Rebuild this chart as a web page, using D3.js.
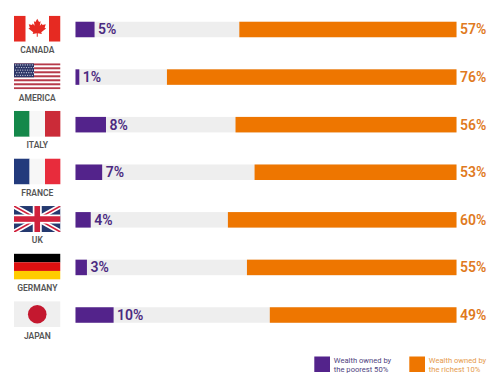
<!DOCTYPE html>
<html>
<head>
<meta charset="utf-8">
<script src="https://cdn.jsdelivr.net/npm/d3@7"></script>
<style>
  body { margin: 0; background: #fff; }
  text { font-family: Roboto, sans-serif; }
</style>
</head>
<body>
<svg class="chart" width="498" height="381"></svg>
<script>
"use strict";

var countries = ["CANADA", "AMERICA", "ITALY", "FRANCE", "UK", "GERMANY", "JAPAN"];
var flags = ["ca", "us", "it", "fr", "uk", "de", "jp"];
var poorest = [5, 1, 8, 7, 4, 3, 10];
var richest = [57, 76, 56, 53, 60, 55, 49];
// the Italy bar in the picture is drawn longer than its printed 56%
var richestBar = [57, 76, 58, 53, 60, 55, 49];
var legendPoorest = ["Wealth owned by", "the poorest 50%"];
var legendRichest = ["Wealth owned by", "the richest 10%"];

var purple = "#53238b", orange = "#ee7600", track = "#eeeeee";

var svg = d3.select(".chart");

var x = d3.scaleLinear().domain([0, 100]).range([75.5, 456.5]);
var y = d3.scaleBand().domain(countries).range([5.7, 338.8]);
var barH = 15.5;
var cy = d => y(d) + y.bandwidth() / 2;

// tracks
svg.append("g").selectAll("rect")
  .data(countries)
  .enter().append("rect")
  .attr("x", x(0))
  .attr("y", d => cy(d) - barH / 2)
  .attr("width", x(100) - x(0))
  .attr("height", barH)
  .attr("fill", track);

// richest 10%, right aligned
svg.append("g").selectAll("rect")
  .data(countries)
  .enter().append("rect")
  .attr("x", (d, i) => x(100 - richestBar[i]))
  .attr("y", d => cy(d) - barH / 2)
  .attr("width", (d, i) => x(richestBar[i]) - x(0))
  .attr("height", barH)
  .attr("fill", orange);

// poorest 50%
svg.append("g").selectAll("rect")
  .data(countries)
  .enter().append("rect")
  .attr("x", x(0))
  .attr("y", d => cy(d) - barH / 2)
  .attr("width", (d, i) => x(poorest[i]) - x(0))
  .attr("height", barH)
  .attr("fill", purple);

// value labels
svg.append("g")
  .attr("fill", "#4b2a80")
  .style("font", "600 14px Roboto, sans-serif")
  .selectAll("text")
  .data(countries)
  .enter().append("text")
  .attr("x", (d, i) => x(poorest[i]) + 3.5)
  .attr("y", d => cy(d) + 5)
  .text((d, i) => poorest[i] + "%");

svg.append("g")
  .attr("fill", "#e07a1e")
  .style("font", "600 14px Roboto, sans-serif")
  .selectAll("text")
  .data(countries)
  .enter().append("text")
  .attr("x", x(100) + 3.5)
  .attr("y", d => cy(d) + 5)
  .text((d, i) => richest[i] + "%");

// country names
svg.append("g")
  .attr("fill", "#555555")
  .attr("text-anchor", "middle")
  .style("font", "600 8.5px Roboto, sans-serif")
  .selectAll("text")
  .data(countries)
  .enter().append("text")
  .attr("x", 37.3)
  .attr("y", d => cy(d) + 23.5)
  .text(d => d);

// flags
var fx = 14, fw = 46.5, fh = 26;

var leafHalf = [[0,-9],[-1.8,-5.6],[-3.4,-6.5],[-2.6,-2],[-4.6,-4.2],[-5.2,-2.8],[-8.5,-3.4],[-7.4,0],[-8.8,0.8],[-4,4.6],[-4.6,6.3],[-0.5,5.6],[-0.5,9]];
var leaf = leafHalf.concat(leafHalf.slice(1).reverse().map(p => [-p[0], p[1]]));

var flagDraw = {
  ca: function(g) {
    g.append("rect").attr("width", fw).attr("height", fh).attr("fill", "#fff");
    g.append("rect").attr("width", 11.5).attr("height", fh).attr("fill", "#e62a22");
    g.append("rect").attr("x", fw - 11.5).attr("width", 11.5).attr("height", fh).attr("fill", "#e62a22");
    g.append("path").attr("d", d3.line()(leaf) + "Z")
      .attr("transform", `translate(${fw / 2},${fh / 2 - 1})`)
      .attr("fill", "#e62a22");
  },
  us: function(g) {
    g.append("rect").attr("width", fw).attr("height", fh).attr("fill", "#fff");
    g.selectAll(".stripe").data(d3.range(0, 13, 2)).enter().append("rect")
      .attr("y", d => d * fh / 13)
      .attr("width", fw)
      .attr("height", fh / 13)
      .attr("fill", "#b73a4a");
    g.append("rect").attr("width", 20).attr("height", fh * 7 / 13).attr("fill", "#2e3768");
    d3.range(5).forEach(function(r) {
      g.selectAll(".star" + r).data(d3.range(8)).enter().append("circle")
        .attr("cx", d => 1.6 + d * 2.4 + (r % 2) * 1.2)
        .attr("cy", 1.6 + r * 2.6)
        .attr("r", 0.6)
        .attr("fill", "#d5d8e6");
    });
  },
  it: function(g) { tricolor(g, "#14884a", "#f7f7f7", "#cb2b38"); },
  fr: function(g) { tricolor(g, "#223a7c", "#f7f7f7", "#e82c3c"); },
  uk: function(g) {
    g.append("rect").attr("width", fw).attr("height", fh).attr("fill", "#24396f");
    var diag = [[0, 0, fw, fh], [0, fh, fw, 0]];
    g.selectAll(".dw").data(diag).enter().append("line")
      .attr("x1", d => d[0]).attr("y1", d => d[1]).attr("x2", d => d[2]).attr("y2", d => d[3])
      .attr("stroke", "#fff").attr("stroke-width", 5);
    g.selectAll(".dr").data(diag).enter().append("line")
      .attr("x1", d => d[0]).attr("y1", d => d[1]).attr("x2", d => d[2]).attr("y2", d => d[3])
      .attr("stroke", "#d0213c").attr("stroke-width", 1.6);
    g.append("rect").attr("x", fw / 2 - 4.5).attr("width", 9).attr("height", fh).attr("fill", "#fff");
    g.append("rect").attr("y", fh / 2 - 4.5).attr("width", fw).attr("height", 9).attr("fill", "#fff");
    g.append("rect").attr("x", fw / 2 - 2.8).attr("width", 5.6).attr("height", fh).attr("fill", "#d0213c");
    g.append("rect").attr("y", fh / 2 - 2.8).attr("width", fw).attr("height", 5.6).attr("fill", "#d0213c");
  },
  de: function(g) {
    var cols = ["#000000", "#dd1010", "#ffcc00"];
    g.selectAll("rect").data(cols).enter().append("rect")
      .attr("y", (d, i) => i * fh / 3)
      .attr("width", fw)
      .attr("height", fh / 3)
      .attr("fill", d => d);
  },
  jp: function(g) {
    g.append("rect").attr("width", fw).attr("height", fh).attr("fill", "#efefef");
    g.append("circle").attr("cx", fw / 2).attr("cy", fh / 2).attr("r", 9.3).attr("fill", "#c4182f");
  }
};

function tricolor(g, a, b, c) {
  g.selectAll("rect").data([a, b, c]).enter().append("rect")
    .attr("x", (d, i) => i * fw / 3)
    .attr("width", fw / 3 + 0.2)
    .attr("height", fh)
    .attr("fill", d => d);
}

var defs = svg.append("defs");
defs.append("clipPath").attr("id", "flag-clip")
  .append("rect").attr("width", fw).attr("height", fh);

countries.forEach(function(c, i) {
  var g = svg.append("g")
    .attr("transform", `translate(${fx},${cy(c) - 13.8})`)
    .attr("clip-path", "url(#flag-clip)");
  flagDraw[flags[i]](g);
});

// legend
function legend(xPos, color, textColor, lines) {
  var g = svg.append("g");
  g.append("rect")
    .attr("x", xPos).attr("y", 356.5)
    .attr("width", 15.7).attr("height", 15.5)
    .attr("fill", color);
  g.selectAll("text").data(lines).enter().append("text")
    .attr("x", xPos + 19.5)
    .attr("y", (d, i) => 363.3 + i * 8.7)
    .attr("fill", textColor)
    .style("font", "7.6px Roboto, sans-serif")
    .text(d => d);
}
legend(314.3, purple, "#4f3f80", legendPoorest);
legend(409.3, orange, "#e59a4c", legendRichest);
</script>
</body>
</html>
